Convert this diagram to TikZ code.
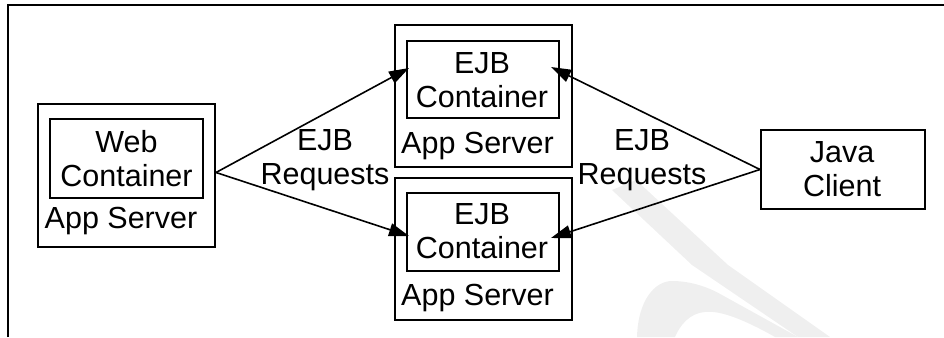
\documentclass[tikz,border=0pt]{standalone}
\usepackage{fontspec}
\setmainfont{Liberation Sans}
\usetikzlibrary{arrows.meta,calc}
\definecolor{wm}{HTML}{EFEFEF}
\begin{document}
\begin{tikzpicture}[x=1pt,y=-1pt,
  box/.style={draw,line width=2pt,inner sep=0pt,minimum width=#1},
  txt/.style={font=\fontsize{30.5}{34}\selectfont,align=center,inner sep=0pt},
  arr/.style={line width=1.6pt,-{Triangle[length=20pt,width=13pt]}}]
\useasboundingbox (0,0) rectangle (944,337);
% watermark
\fill[wm] (612,190) -- (636,180) -- (728,265) -- (830,337) -- (798,337) -- (692,265) -- cycle;
\fill[wm] (637,337) .. controls (638,300) and (655,281) .. (672,281)
  .. controls (692,281) and (710,288) .. (722,295) -- (798,337) -- (775,337)
  .. controls (745,320) and (720,310) .. (705,312)
  .. controls (690,313) and (680,325) .. (675,337) -- cycle;
% frame
\draw[line width=1.5pt] (8,337) -- (8,5) -- (944,5);
% boxes
\node[box=177pt,minimum height=143pt] (was) at (126.5,175.5) {};
\node[box=153pt,minimum height=79pt] (wc) at (126.5,158.5) {};
\node[txt] (wct) at (126.5,158.5) {Web\\Container};
\node[txt,anchor=base] (wast) at (121,228) {App Server};

\node[box=177pt,minimum height=142pt] (as1) at (483.5,96) {};
\node[box=152pt,minimum height=77pt] (c1) at (483,79.5) {};
\node[txt] (c1t) at (482,80) {EJB\\Container};
\node[txt,anchor=base] (as1t) at (477.5,153) {App Server};

\node[box=177pt,minimum height=142pt] (as2) at (483.5,249) {};
\node[box=152pt,minimum height=78pt] (c2) at (483,232) {};
\node[txt] (c2t) at (482,231) {EJB\\Container};
\node[txt,anchor=base] (as2t) at (477.5,305) {App Server};

\node[box=164pt,minimum height=79pt] (jc) at (843,169.5) {};
\node[txt] (jct) at (842,169) {Java\\Client};

% labels
\node[txt] (l1) at (325,160) {EJB\\Requests};
\node[txt] (l2) at (642,160) {EJB\\Requests};

% arrows
\draw[arr] ($(was.east)+(0,-3)$) -- ($(c1.west)+(3,-11.5)$);
\draw[arr] ($(was.east)+(0,-3)$) -- ($(c2.west)+(3,4)$);
\draw[arr] (jc.west) -- ($(c1.east)+(-9,-12.5)$);
\draw[arr] (jc.west) -- ($(c2.east)+(-9,6)$);
\end{tikzpicture}
\end{document}
